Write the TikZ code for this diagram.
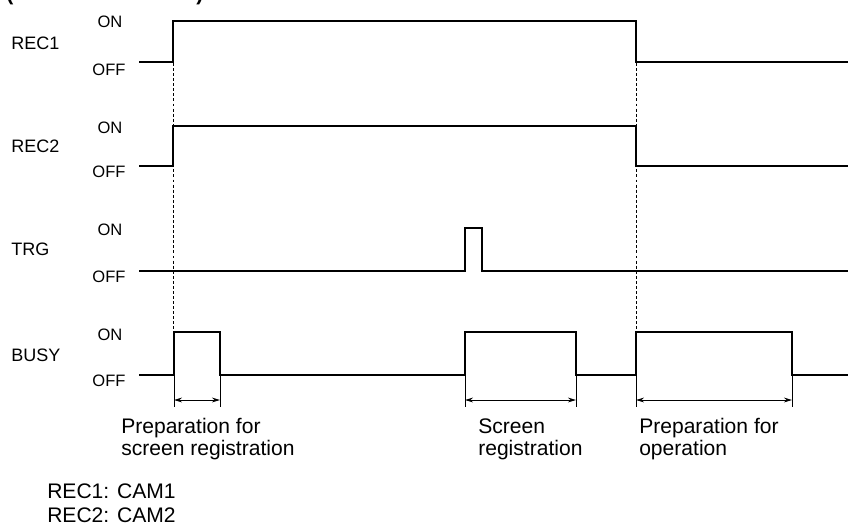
\documentclass[tikz,border=0pt]{standalone}
\usepackage{fontspec}
\setmainfont{Liberation Sans}
\usetikzlibrary{arrows.meta}

\begin{document}
\begin{tikzpicture}[x=0.75pt,y=-0.75pt,
  sig/.style={line width=1.9pt, line join=miter},
  guide/.style={line width=0.75pt, dash pattern=on 2.2pt off 1.6pt},
  tick/.style={line width=0.75pt},
  span/.style={line width=0.75pt, {Stealth[length=6pt,width=3.6pt]}-{Stealth[length=6pt,width=3.6pt]}},
  lvl/.style={anchor=base, inner sep=0pt, font=\fontsize{12.4}{14}\selectfont},
  sname/.style={anchor=base west, inner sep=0pt, font=\fontsize{13.5}{15}\selectfont},
  note/.style={anchor=base west, inner sep=0pt, font=\fontsize{15.8}{17}\selectfont},
  head/.style={anchor=base west, inner sep=0pt, font=\fontsize{15.8}{17}\selectfont\bfseries}]
\useasboundingbox (0,0) rectangle (848,525);
\clip (0,0) rectangle (848,525);
% title, cut off at the top edge
\node[head] (titleL) at (6,0) {(};
\node[head] (titleR) at (196,0) {)};
% signal names and levels
\node[sname] (nRecOne) at (11,49) {REC1};
\node[lvl] (onRecOne) at (110,27) {ON};
\node[lvl] (offRecOne) at (109,75) {OFF};
\node[sname] (nRecTwo) at (11,152) {REC2};
\node[lvl] (onRecTwo) at (110,133) {ON};
\node[lvl] (offRecTwo) at (109,177) {OFF};
\node[sname] (nTrg) at (11,255) {TRG};
\node[lvl] (onTrg) at (110,235) {ON};
\node[lvl] (offTrg) at (109,282) {OFF};
\node[sname] (nBusy) at (11,361) {BUSY};
\node[lvl] (onBusy) at (110,340) {ON};
\node[lvl] (offBusy) at (109,386) {OFF};
% waveforms
\draw[sig] (139,62) -- (173,62) -- (173,21) -- (636,21) -- (636,62) -- (848,62);
\draw[sig] (139,166) -- (173,166) -- (173,126) -- (636,126) -- (636,166) -- (848,166);
\draw[sig] (139,271) -- (465,271) -- (465,228) -- (482,228) -- (482,271) -- (848,271);
\draw[sig] (139,375) -- (174,375) -- (174,332) -- (220,332) -- (220,375) -- (465,375) -- (465,332)
  -- (576,332) -- (576,375) -- (636,375) -- (636,332) -- (792,332) -- (792,375) -- (848,375);
% guides
\draw[guide] (173,63) -- (173,331);
\draw[guide] (636,63) -- (636,331);
% spans under BUSY
\coordinate (pA) at (174,400);
\coordinate (pB) at (220,400);
\coordinate (sA) at (465,400);
\coordinate (sB) at (576,400);
\coordinate (oA) at (636,400);
\coordinate (oB) at (792,400);
\foreach \c in {pA,pB,sA,sB,oA,oB}
  \draw[tick] (\c) ++(0,-24) -- ++(0,31);
\draw[span] (pA) -- (pB);
\draw[span] (sA) -- (sB);
\draw[span] (oA) -- (oB);
% captions
\node[note] (capPrepA) at (121,433) {Preparation for};
\node[note] (capPrepB) at (121,455) {screen registration};
\node[note] (capScrA) at (478,433) {Screen};
\node[note] (capScrB) at (478,455) {registration};
\node[note] (capOpA) at (639,433) {Preparation for};
\node[note] (capOpB) at (639,455) {operation};
\node[note] (keyOne) at (47,498) {REC1: CAM1};
\node[note] (keyTwo) at (47,522) {REC2: CAM2};
\end{tikzpicture}
\end{document}
